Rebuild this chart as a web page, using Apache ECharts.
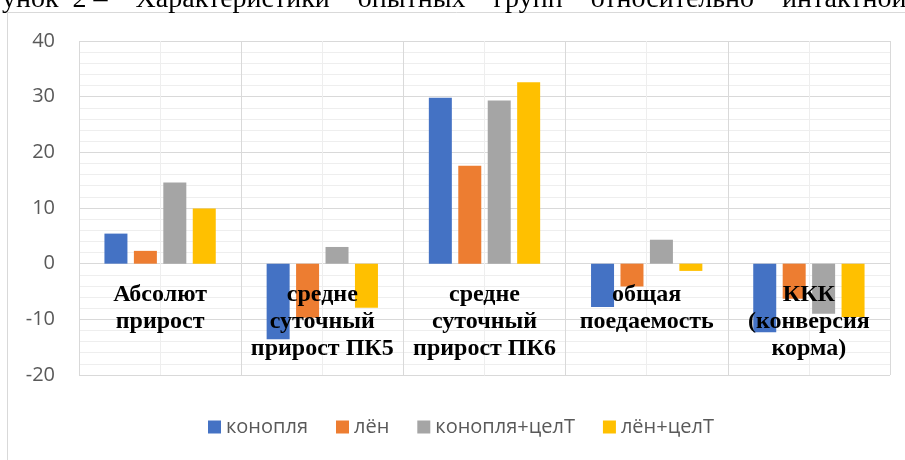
<!DOCTYPE html>
<html>
<head>
<meta charset="utf-8">
<script src="https://cdn.jsdelivr.net/npm/echarts@6/dist/echarts.min.js"></script>
<style>
  html, body { margin: 0; padding: 0; background: #fff; }
  #chart { width: 905px; height: 460px; }
</style>
</head>
<body>
<div id="chart"></div>
<script>
// categories (line breaks as in the original chart)
const categories = [
  'Абсолют\nприрост',
  'средне\nсуточный\nприрост ПК5',
  'средне\nсуточный\nприрост ПК6',
  'общая\nпоедаемость',
  'ККК\n(конверсия\nкорма)'
]
const seriesNames = ['конопля', 'лён', 'конопля+целТ', 'лён+целТ']
const konoplya = [5.4, -13.6, 29.8, -7.8, -12.3]
const len = [2.3, -9.7, 17.6, -4.1, -6.3]
const konoplyaCel = [14.6, 3.0, 29.3, 4.3, -9.0]
const lenCel = [9.9, -7.9, 32.6, -1.3, -9.6]
const colors = ['#4472C4', '#ED7D31', '#A5A5A5', '#FFC000']
const captionText = 'унок  2 –    Характеристики    опытных    групп    относительно    интактной'

const chart = echarts.init(document.getElementById('chart'))

const values = [konoplya, len, konoplyaCel, lenCel]

const option = {
  animation: false,
  color: colors,
  graphic: [
    {
      type: 'rect',
      shape: { x: 7.5, y: 12.5, width: 1000, height: 500 },
      style: { fill: 'none', stroke: '#d9d9d9', lineWidth: 1 },
      silent: true
    },
    {
      type: 'text',
      x: 2,
      y: 14,
      style: {
        text: captionText,
        font: '28px "Liberation Serif"',
        fill: '#000',
        verticalAlign: 'bottom'
      },
      silent: true
    }
  ],
  grid: { left: 79, right: 15, top: 41, bottom: 85, containLabel: false, outerBoundsMode: 'none' },
  legend: {
    left: 203,
    top: 412,
    itemWidth: 13,
    itemHeight: 13,
    itemGap: 28,
    icon: 'rect',
    textStyle: { fontFamily: 'Open Sans', fontSize: 20, color: '#595959' },
    data: seriesNames
  },
  xAxis: [
    {
      type: 'category',
      data: categories,
      z: 5,
      axisLine: { show: false, onZero: false },
      axisTick: { show: false },
      splitLine: { show: false },
      axisLabel: {
        // labels sit just under the zero line, inside the plot
        margin: -93.5,
        fontFamily: 'Liberation Serif',
        fontWeight: 'bold',
        fontSize: 24,
        lineHeight: 27,
        color: '#000',
        interval: 0
      }
    },
    {
      type: 'value',
      min: 0,
      max: 5,
      interval: 1,
      position: 'top',
      axisLine: { show: false, onZero: false },
      axisTick: { show: false },
      axisLabel: { show: false },
      splitLine: { show: true, lineStyle: { color: '#d9d9d9', width: 1 } },
      minorTick: { show: false, splitNumber: 2 },
      minorSplitLine: { show: true, lineStyle: { color: '#eeeeee', width: 1 } }
    }
  ],
  yAxis: {
    type: 'value',
    min: -20,
    max: 40,
    interval: 10,
    axisLine: { show: false, onZero: false },
    axisTick: { show: false },
    axisLabel: { margin: 24, fontFamily: 'Open Sans', fontSize: 20, color: '#595959' },
    splitLine: { lineStyle: { color: '#d9d9d9', width: 1 } },
    minorTick: { show: false, splitNumber: 5 },
    minorSplitLine: { show: true, lineStyle: { color: '#eeeeee', width: 1 } }
  },
  series: seriesNames.map((name, i) => ({
    name: name,
    type: 'bar',
    xAxisIndex: 0,
    data: values[i],
    barWidth: 23,
    barGap: '28%',
    itemStyle: { color: colors[i] }
  }))
}

chart.setOption(option)
</script>
</body>
</html>
